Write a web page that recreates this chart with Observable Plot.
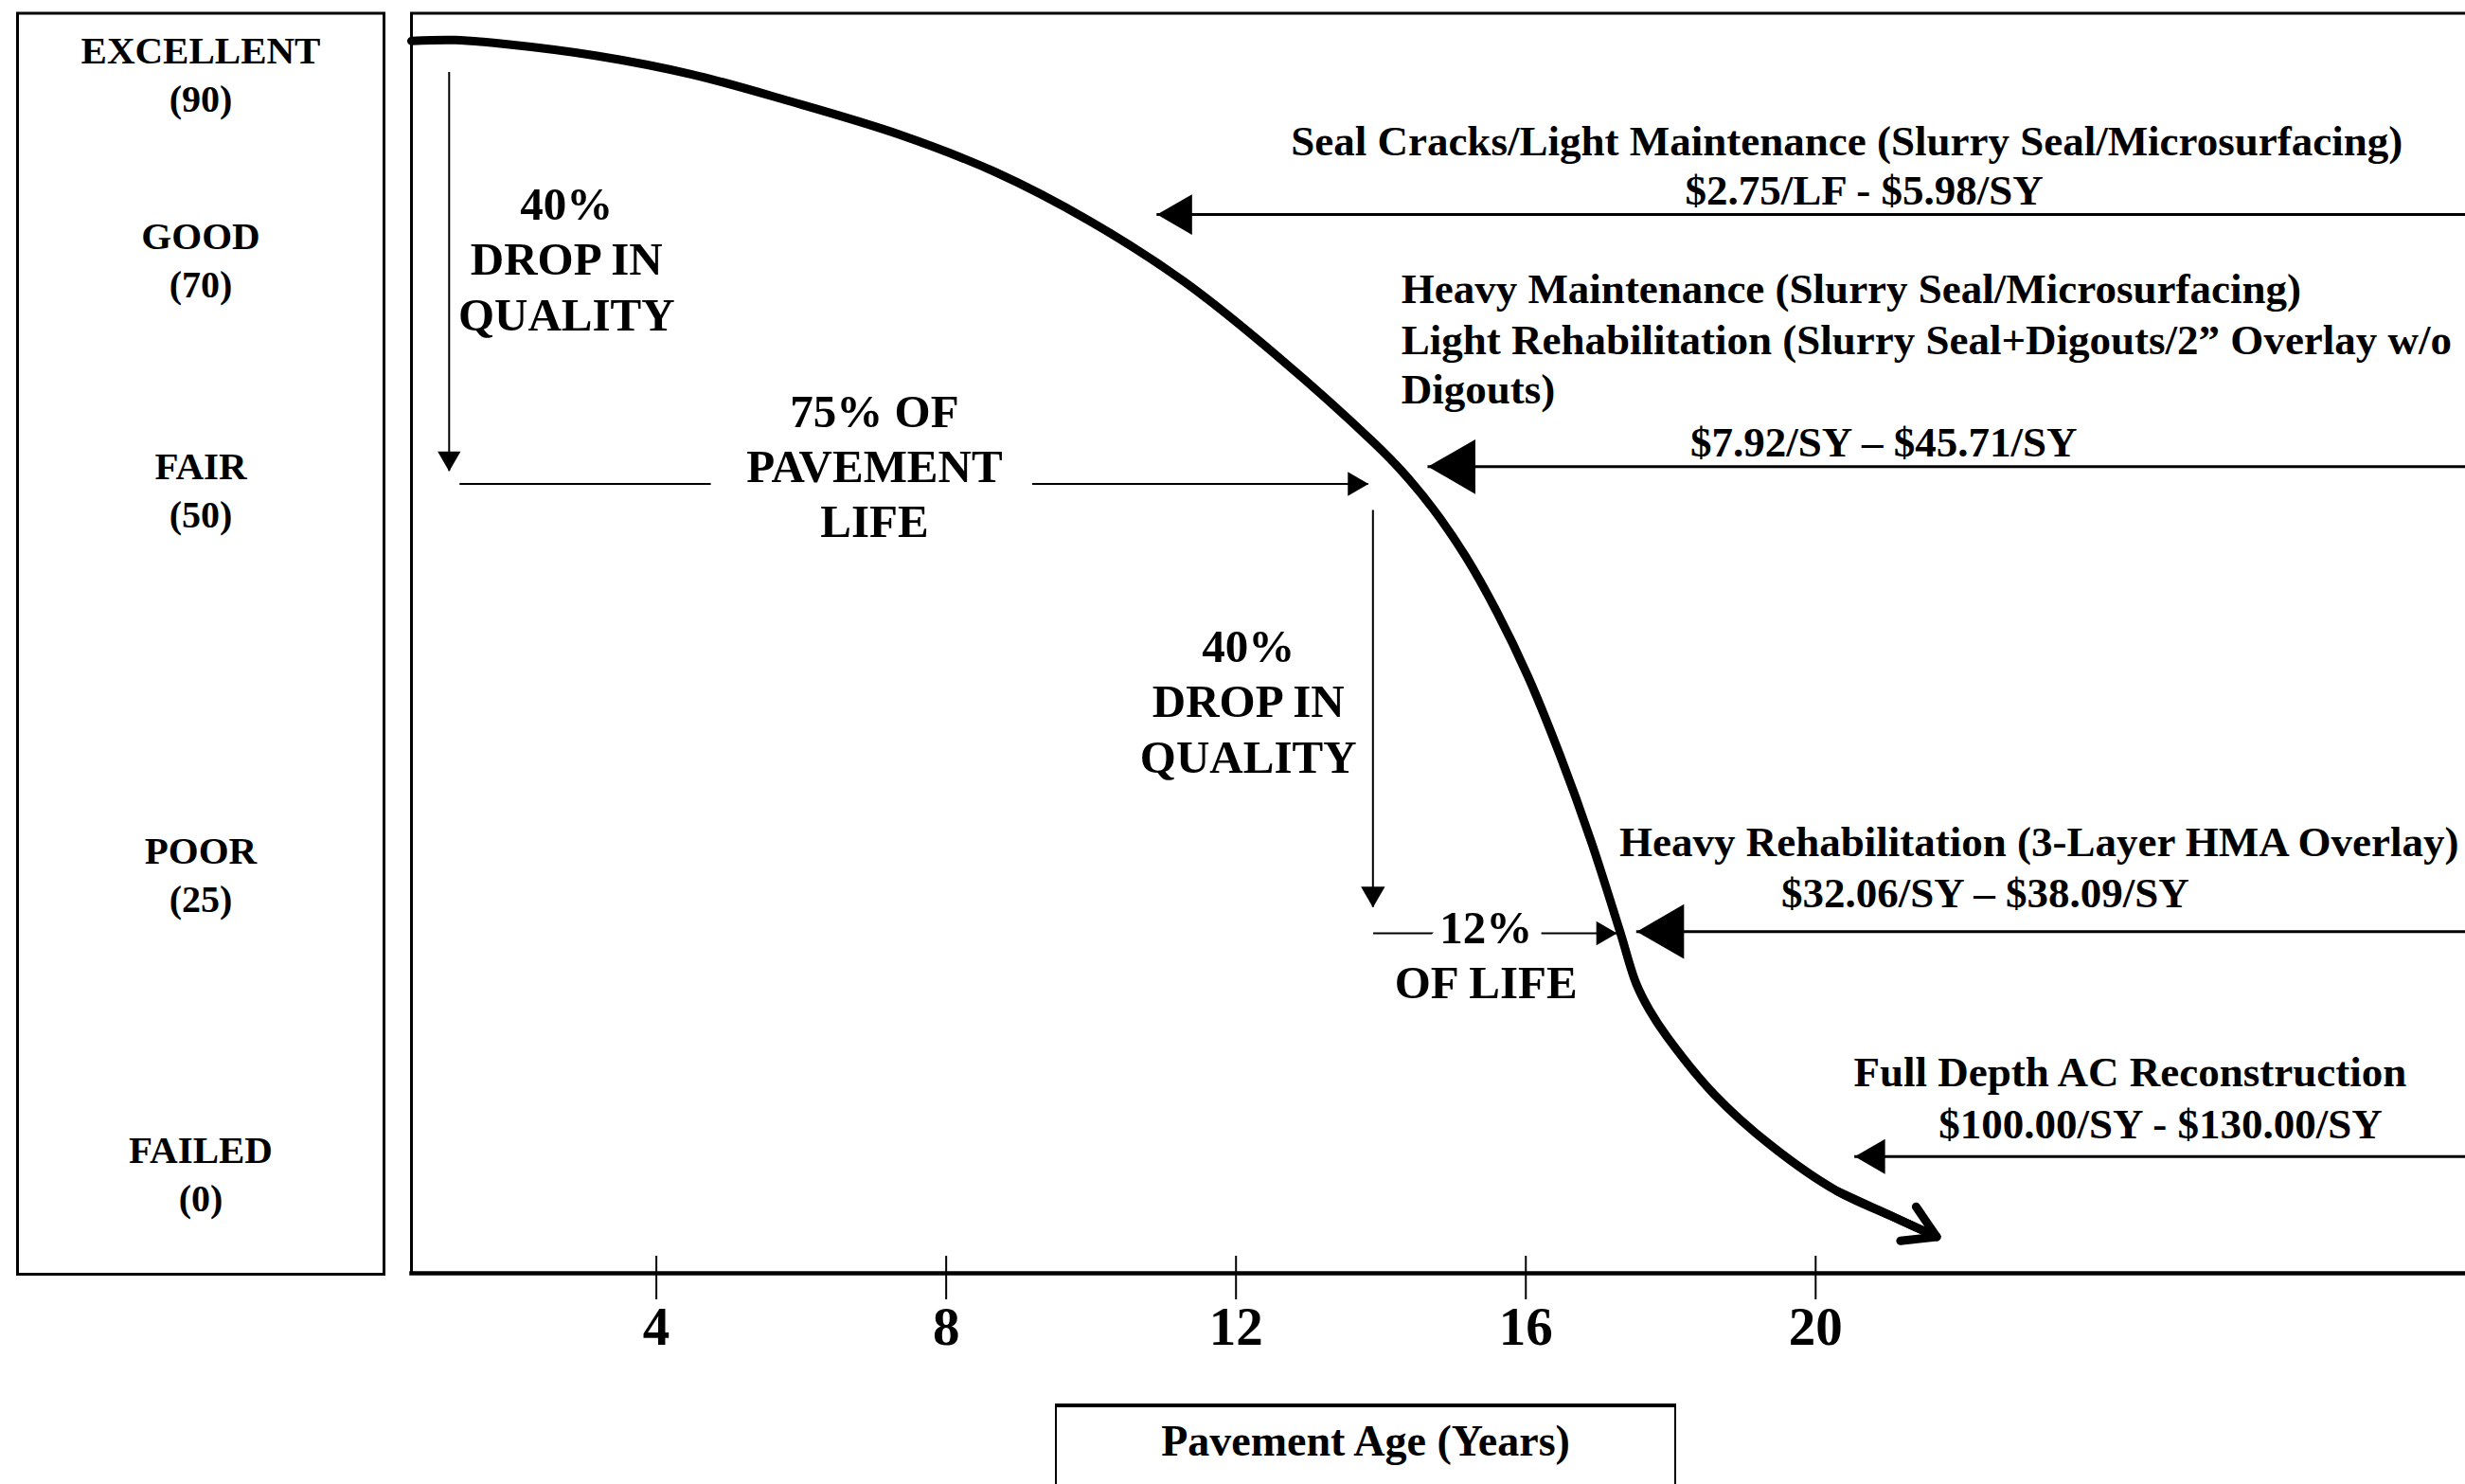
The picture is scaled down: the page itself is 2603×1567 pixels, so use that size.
<!DOCTYPE html>
<html>
<head>
<meta charset="utf-8">
<script src="https://cdn.jsdelivr.net/npm/d3@7"></script>
<script src="https://cdn.jsdelivr.net/npm/@observablehq/plot@0.6"></script>
<style>
html, body { margin: 0; padding: 0; background: #fff; overflow: hidden; }
#wrap { position: relative; width: 2603px; height: 1567px; overflow: hidden; background: #fff; }
#left { position: absolute; left: 0; top: 0; }
#main { position: absolute; left: 420px; top: 0; }
#xtitle {
  position: absolute; left: 1114px; top: 1482px; width: 656px; height: 160px;
  box-sizing: border-box; border: 2px solid #000; border-top-width: 4px;
  text-align: center; font-family: "Liberation Serif", "Times New Roman", serif;
  font-weight: bold; font-size: 46px; line-height: 46px; padding-top: 13px; color: #000;
}
</style>
</head>
<body>
<div id="wrap">
  <div id="left"></div>
  <div id="main"></div>
  <div id="xtitle">Pavement Age (Years)</div>
</div>
<script>
// ---------------- DATA ----------------
// Condition categories (left box)
const categories = ["EXCELLENT", "GOOD", "FAIR", "POOR", "FAILED"];
const categoryScores = [90, 70, 50, 25, 0];

// X axis ticks (pavement age, years)
const xTicks = [4, 8, 12, 16, 20];

// Deterioration curve: pavement age (years) vs condition score
const curveYears  = [0.62, 1.22, 1.88, 3.18, 4.49, 5.80, 7.36, 8.67, 9.98, 11.28, 12.59, 13.90, 14.29, 14.72, 15.17, 15.60, 16.03, 16.47, 16.90, 17.30, 17.52, 17.71, 17.95, 18.60, 19.39, 20.30, 21.02, 21.67];
const curveScores = [93.8, 93.9, 93.5, 92.2, 90.2, 87.4, 83.7, 79.7, 74.4, 68.3, 61.7, 54.3, 51.8, 48.9, 45.8, 42.2, 38.0, 32.9, 27.3, 20.4, 16.1, 13.8, 11.6, 6.8, 2.5, -1.3, -3.3, -5.1];

// "Drop in quality" vertical arrows: age, from score, to score
const dropYears = [1.14, 13.89];
const dropFrom  = [90.4, 48.8];
const dropTo    = [51.8, 22.4];
const dropTexts = ["40%\nDROP IN\nQUALITY", "40%\nDROP IN\nQUALITY"];
const dropTextYears  = [2.76, 12.17];
const dropTextScores = [70.5, 36.5];

// "Share of life" horizontal arrows: score, from age, to age
const lifeScores = [50.7, 20.25];
const lifeFrom   = [1.29, 13.90];
const lifeTo     = [13.83, 17.26];
const lifeTexts  = ["75% OF\nPAVEMENT\nLIFE", "12%\nOF LIFE"];
const lifeTextYears  = [7.01, 15.45];
const lifeTextScores = [52.4, 18.6];

// Treatment arrows (pointing at the curve): tip age, score
const treatmentTipYears  = [10.91, 14.65, 17.53, 20.54];
const treatmentTipScores = [75.1, 52.2, 20.4, 1.6];

// Treatment texts, centred lines
const centeredLines = [
  "Seal Cracks/Light Maintenance (Slurry Seal/Microsurfacing)",
  "$2.75/LF - $5.98/SY",
  "$7.92/SY \u2013 $45.71/SY",
  "$32.06/SY \u2013 $38.09/SY",
  "Full Depth AC Reconstruction",
  "$100.00/SY - $130.00/SY"
];
const centeredYears  = [20.43, 20.67, 20.94, 22.34, 24.34, 24.76];
const centeredScores = [82.9, 77.6, 54.3, 23.6, 8.6, 4.3];

// Treatment texts, left-aligned lines
const leftLines = [
  "Heavy Maintenance (Slurry Seal/Microsurfacing)",
  "Light Rehabilitation (Slurry Seal+Digouts/2\u201D Overlay w/o",
  "Digouts)",
  "Heavy Rehabilitation (3-Layer HMA Overlay)"
];
const leftYears  = [14.28, 14.28, 14.28, 17.29];
const leftScores = [67.6, 63.2, 58.9, 27.2];

// ---------------- TABLES ----------------
const cats = categories.map((name, i) => ({name, score: categoryScores[i]}));
const curve = curveYears.map((year, i) => ({year, score: curveScores[i]}));
const n = curve.length;
const curveEnd = [{x1: curve[n - 3].year, y1: curve[n - 3].score, x2: curve[n - 1].year, y2: curve[n - 1].score}];
const drops = dropYears.map((year, i) => ({year, from: dropFrom[i], to: dropTo[i]}));
const dropLabels = dropTexts.map((text, i) => ({text, year: dropTextYears[i], score: dropTextScores[i]}));
const lifes = lifeScores.map((score, i) => ({score, from: lifeFrom[i], to: lifeTo[i]}));
const lifeLabels = lifeTexts.map((text, i) => ({text, year: lifeTextYears[i], score: lifeTextScores[i]}));
const treatments = treatmentTipYears.map((year, i) => ({year, score: treatmentTipScores[i]}));
const centered = centeredLines.map((text, i) => ({text, year: centeredYears[i], score: centeredScores[i]}));
const lefts = leftLines.map((text, i) => ({text, year: leftYears[i], score: leftScores[i]}));

// ---------------- STYLE ----------------
const FONT = "Liberation Serif";
const yScale = {type: "linear", domain: [0, 25, 50, 70, 90], range: [1241, 925, 519, 276, 80], axis: null};
const xMax = 29.06;

// filled triangular arrowhead with its tip on the data point
function head(data, x, y, h, dir) {
  const rot = {left: -90, right: 90, down: 180}[dir];
  const o = 2 * h / 3;
  return Plot.dot(data, {
    x, y, symbol: "triangle", r: 0.4287 * h, rotate: rot, fill: "black", stroke: "none",
    dx: dir === "left" ? o : dir === "right" ? -o : 0,
    dy: dir === "down" ? -o : 0
  });
}

const bold = {fontFamily: FONT, fontWeight: "bold", fill: "black"};
const labelText = {x: "year", y: "score", text: "text", fontSize: 49, lineHeight: 1.19, fontFamily: FONT, fontWeight: "bold"};

// ---------------- LEFT BOX ----------------
const leftPlot = Plot.plot({
  width: 420, height: 1440,
  marginLeft: 18, marginRight: 15, marginTop: 13.5, marginBottom: 95,
  x: {domain: [0, 1], axis: null},
  y: yScale,
  style: {fontFamily: FONT, background: "transparent", color: "black", maxWidth: "none"},
  marks: [
    Plot.frame({stroke: "black", strokeWidth: 3}),
    Plot.text(cats, {y: "score", text: "name", frameAnchor: "middle", dy: -27, fontSize: 41, ...bold}),
    Plot.text(cats, {y: "score", text: d => `(${d.score})`, frameAnchor: "middle", dy: 25, fontSize: 40, ...bold})
  ]
});
document.getElementById("left").appendChild(leftPlot);

// ---------------- MAIN CHART ----------------
const mainPlot = Plot.plot({
  width: 2200, height: 1440,
  marginLeft: 14, marginRight: 10, marginTop: 13.5, marginBottom: 96,
  x: {type: "linear", domain: [0.62, xMax]},
  y: yScale,
  style: {fontFamily: FONT, background: "transparent", color: "black", maxWidth: "none"},
  marks: [
    Plot.frame({stroke: "black", strokeWidth: 3}),
    Plot.frame({anchor: "bottom", stroke: "black", strokeWidth: 4.5}),
    Plot.axisX({ticks: xTicks, tickSize: 46, tickPadding: 7, dy: -18, fontSize: 57, fontWeight: "bold",
      fontFamily: FONT, strokeWidth: 2, stroke: "black", fill: "black", label: null, tickFormat: d => String(d)}),

    // deterioration curve with end arrow
    Plot.line(curve, {x: "year", y: "score", curve: "catmull-rom", stroke: "black", strokeWidth: 9}),
    Plot.arrow(curveEnd, {x1: "x1", y1: "y1", x2: "x2", y2: "y2", stroke: "black", strokeWidth: 9, headLength: 7.5, headAngle: 62}),

    // drop-in-quality arrows
    Plot.ruleX(drops, {x: "year", y1: "from", y2: "to", stroke: "black", strokeWidth: 2}),
    head([drops[0]], "year", "to", 21, "down"),
    head([drops[1]], "year", "to", 22, "down"),
    Plot.text(dropLabels, {...labelText, fill: "black"}),

    // share-of-life arrows (labels interrupt the shafts)
    Plot.ruleY(lifes, {y: "score", x1: "from", x2: "to", stroke: "black", strokeWidth: 2}),
    head([lifes[0]], "to", "score", 22, "right"),
    head([lifes[1]], "to", "score", 22, "right"),
    Plot.text([lifeLabels[0]], {...labelText, fill: "white", stroke: "white", strokeWidth: 78, strokeLinejoin: "round"}),
    Plot.text([lifeLabels[1]], {...labelText, fill: "white", stroke: "white", strokeWidth: 28, strokeLinejoin: "round"}),
    Plot.text(lifeLabels, {...labelText, fill: "black"}),

    // treatment arrows from the right edge
    Plot.ruleY(treatments, {y: "score", x1: "year", x2: () => xMax, stroke: "black", strokeWidth: 3}),
    head([treatments[0]], "year", "score", 37, "left"),
    head([treatments[1]], "year", "score", 50, "left"),
    head([treatments[2]], "year", "score", 50, "left"),
    head([treatments[3]], "year", "score", 32, "left"),

    // treatment texts
    Plot.text(centered, {x: "year", y: "score", text: "text", fontSize: 45, ...bold}),
    Plot.text(lefts, {x: "year", y: "score", text: "text", textAnchor: "start", fontSize: 45, ...bold})
  ]
});
document.getElementById("main").appendChild(mainPlot);
</script>
</body>
</html>
